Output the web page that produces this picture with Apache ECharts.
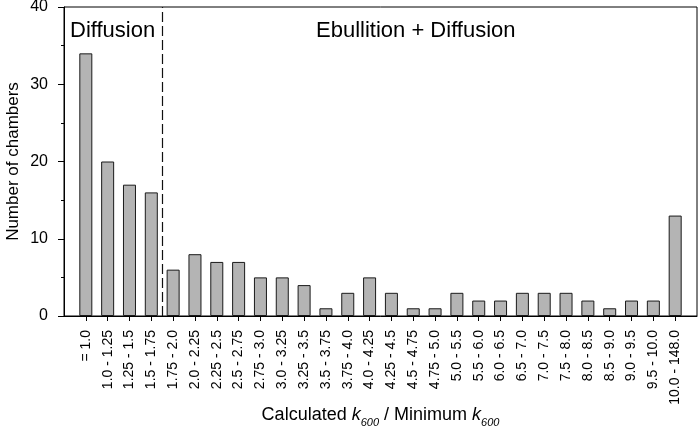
<!DOCTYPE html>
<html>
<head>
<meta charset="UTF-8">
<title></title>
<style>
  html, body { margin: 0; padding: 0; background: #fff; }
  #chart { width: 699px; height: 428px; }
</style>
</head>
<body>
<div id="chart"></div>
<script src="https://cdn.jsdelivr.net/npm/echarts@6/dist/echarts.min.js"></script>
<script type="text/javascript">
  // bins of calculated k600 / minimum k600
  var categories = ['= 1.0', '1.0 - 1.25', '1.25 - 1.5', '1.5 - 1.75', '1.75 - 2.0', '2.0 - 2.25',
    '2.25 - 2.5', '2.5 - 2.75', '2.75 - 3.0', '3.0 - 3.25', '3.25 - 3.5', '3.5 - 3.75', '3.75 - 4.0',
    '4.0 - 4.25', '4.25 - 4.5', '4.5 - 4.75', '4.75 - 5.0', '5.0 - 5.5', '5.5 - 6.0', '6.0 - 6.5',
    '6.5 - 7.0', '7.0 - 7.5', '7.5 - 8.0', '8.0 - 8.5', '8.5 - 9.0', '9.0 - 9.5', '9.5 - 10.0',
    '10.0 - 148.0'];
  var chambers = [34, 20, 17, 16, 6, 8, 7, 7, 5, 5, 4, 1, 3, 5, 3, 1, 1, 3, 2, 2, 3, 3, 3, 2, 1, 2, 2, 13];
  var yTicks = [0, 10, 20, 30, 40];
  var regionLabels = ['Diffusion', 'Ebullition + Diffusion'];
  var splitAfter = 4; // first 4 bins are diffusion only

  var font = "'Liberation Sans', Arial, sans-serif";
  var positions = categories.map(function (c, i) { return i + 1; });
  var barData = chambers.map(function (v, i) { return [i + 1, v]; });

  var chart = echarts.init(document.getElementById('chart'));
  var option = {
    backgroundColor: '#fff',
    animation: false,
    grid: {
      left: 64, right: 2, top: 7, bottom: 112,
      containLabel: false,
      outerBoundsMode: 'none',
      show: true, borderColor: '#000', borderWidth: 1
    },
    graphic: [{
      type: 'text', x: 70, y: 31,
      style: { text: regionLabels[0], font: '22px ' + font, fill: '#000', verticalAlign: 'middle' }
    }, {
      type: 'text', x: 316, y: 31,
      style: { text: regionLabels[1], font: '22px ' + font, fill: '#000', verticalAlign: 'middle' }
    }],
    xAxis: {
      type: 'value',
      min: 0,
      max: categories.length + 1,
      interval: 1,
      splitLine: { show: false },
      axisLine: { show: true, lineStyle: { color: '#000', width: 1 } },
      axisTick: { show: true, length: 5, customValues: positions, lineStyle: { color: '#000' } },
      axisLabel: {
        customValues: positions,
        rotate: 90,
        margin: 14,
        color: '#000',
        fontSize: 14,
        fontFamily: font,
        formatter: function (v) { return categories[Math.round(v) - 1] || ''; }
      },
      name: '{n|Calculated }{i|k}{s|600}{n| / Minimum }{i|k}{s|600}',
      nameLocation: 'middle',
      nameGap: 86,
      nameMoveOverlap: false,
      nameTextStyle: {
        rich: {
          n: { fontSize: 18, fontFamily: font, color: '#000', lineHeight: 26 },
          i: { fontSize: 18, fontFamily: font, fontStyle: 'italic', color: '#000', lineHeight: 26 },
          s: { fontSize: 11, fontFamily: font, fontStyle: 'italic', color: '#000', lineHeight: 11, verticalAlign: 'bottom' }
        }
      }
    },
    yAxis: {
      type: 'value',
      min: yTicks[0],
      max: yTicks[yTicks.length - 1],
      interval: 10,
      splitLine: { show: false },
      axisLine: { show: true, lineStyle: { color: '#000', width: 1 } },
      axisTick: { show: true, length: 6, lineStyle: { color: '#000' } },
      minorTick: { show: true, splitNumber: 2, length: 3, lineStyle: { color: '#000' } },
      axisLabel: { color: '#000', fontSize: 16, fontFamily: font, margin: 16 },
      name: 'Number of chambers',
      nameLocation: 'middle',
      nameGap: 42,
      nameMoveOverlap: false,
      nameTextStyle: { color: '#000', fontSize: 17, fontFamily: font }
    },
    series: [{
      type: 'bar',
      data: barData,
      barWidth: 13,
      itemStyle: { color: '#b4b4b4', borderColor: '#1a1a1a', borderWidth: 1 },
      silent: true,
      markLine: {
        silent: true,
        symbol: 'none',
        label: { show: false },
        lineStyle: { color: '#111', width: 1.2, type: [10, 4] },
        data: [{ xAxis: splitAfter + 0.5 }]
      }
    }]
  };
  chart.setOption(option);
</script>
</body>
</html>
